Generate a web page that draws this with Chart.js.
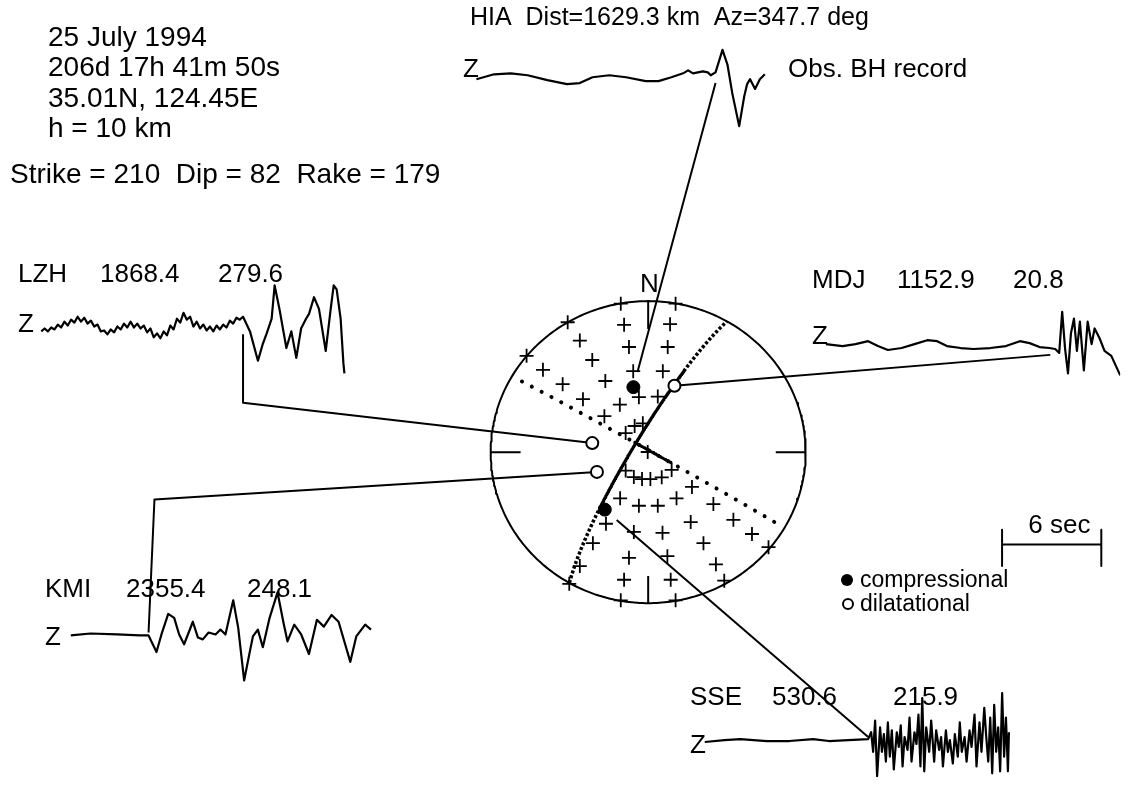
<!DOCTYPE html>
<html>
<head>
<meta charset="utf-8">
<script src="https://cdn.jsdelivr.net/npm/chart.js@4/dist/chart.umd.min.js"></script>
<style>
  html, body { margin: 0; padding: 0; background: #fff; }
  canvas { display: block; }
</style>
</head>
<body>
<canvas id="fig" width="1129" height="786"></canvas>
<script>
// ---------------- event ----------------
const eventLines = ['25 July 1994', '206d 17h 41m 50s', '35.01N, 124.45E', 'h = 10 km'];
const strikeDeg = 210;
const dipDeg = 82;
const rakeDeg = 179;

// ---------------- stations ----------------
const stations   = ['HIA', 'LZH', 'MDJ', 'KMI', 'SSE'];
const distKm     = [1629.3, 1868.4, 1152.9, 2355.4, 530.6];
const azimuthDeg = [347.7, 279.6, 20.8, 248.1, 215.9];
const takeoffDeg = [36.3, 29.5, 38.8, 28.7, 38.8];
const polarity   = ['c', 'd', 'd', 'd', 'c'];   // c = compressional, d = dilatational
const onsetSec   = [14.46, 12.2, 13.57, 4.70, 9.88];

// ---------------- vertical-component records (time s, amplitude counts) ----------------
const hiaT = [0,1.07,2.08,3.10,4.29,5.48,6.25,7.02,8.04,9.05,10.24,11.01,11.79,12.5,12.8,13.1,13.39,13.7,13.99,14.17,14.46,14.88,15.18,15.48,15.89,16.19,16.37,16.55,16.85,17.14,17.44];
const hiaA = [-2,3,4,2,-3,-7,-6,0,2,0,-4,-4,0,4,7,4,5,6,5,2,5,28,13,-17,-50,-20,-7,-2,-12,-2,3];

const lzhT = [0,0.2,0.4,0.6,0.8,1.0,1.2,1.4,1.6,1.8,2.0,2.2,2.4,2.6,2.8,3.0,3.2,3.4,3.6,3.8,
  4.0,4.2,4.4,4.6,4.8,5.0,5.2,5.4,5.6,5.8,6.0,6.2,6.4,6.6,6.8,7.0,7.2,7.4,7.6,7.8,
  8.0,8.2,8.4,8.6,8.8,9.0,9.2,9.4,9.6,9.8,10.0,10.2,10.4,10.6,10.8,11.0,11.2,11.4,11.6,11.8,12.0,12.2,
  12.62,13.10,13.39,13.63,13.93,14.11,14.40,14.82,15.12,15.42,15.71,16.01,16.19,16.49,16.79,17.20,17.50,17.68,17.86,18.10,18.27,18.33];
const lzhA = [-5,-2,-5,-1,-3,2,-1,5,1,7,4,10,5,9,3,6,0,2,-5,-4,
  -8,-3,-6,0,-3,3,-1,5,-1,3,-2,1,-6,-2,-11,-7,-12,-5,-9,1,
  -3,8,4,14,7,10,0,5,-2,2,-4,0,-5,1,-3,2,-1,6,3,9,7,10,
  -5,-35,-18,-7,8,42,18,-22,-5,-32,-2,8,13,30,18,-25,18,42,38,8,-38,-48];

const mdjT = [0,1.01,1.79,2.56,3.15,3.75,4.58,5.36,6.13,6.73,7.32,8.15,8.93,9.94,10.89,11.73,12.32,12.92,13.51,13.87,
  14.11,14.29,14.46,14.64,14.82,15.0,15.18,15.36,15.60,15.83,16.07,16.25,16.55,16.85,17.26,17.80];
const mdjA = [2,0,2,5,0,-4,-2,2,6,5,0,-2,-3,-2,0,5,3,-1,-2,-3,
  -7,35,-2,-28,13,28,-5,25,-25,25,2,18,8,-5,-10,-30];

const kmiT = [0,1.19,2.80,4.17,4.70,5.18,5.48,5.89,6.25,6.55,6.85,7.38,7.68,7.98,8.33,8.75,9.05,9.35,9.82,10.12,
  10.48,10.83,11.01,11.31,11.61,12.02,12.50,12.86,13.10,13.51,13.93,14.40,14.88,15.30,15.77,16.19,16.90,17.26,17.80,18.15];
const kmiA = [-1,1,0,-1,-1,-18,0,21,17,0,-10,13,-3,-5,2,0,5,0,35,7,
  -47,-17,-2,5,-13,17,43,12,-7,10,0,-20,15,8,20,13,-28,-2,10,5];

const sseT = [0,1.19,2.14,3.75,5.12,6.55,7.5,8.69,9.88,
  10.06,10.18,10.30,10.42,10.60,10.71,10.83,10.95,11.07,11.19,11.31,11.43,11.61,11.73,11.85,11.96,12.08,12.26,12.38,12.50,
  12.68,12.80,12.92,13.04,13.15,13.27,13.39,13.57,13.69,13.87,13.99,14.17,14.29,14.40,14.58,14.70,14.82,15.0,15.12,15.30,
  15.42,15.54,15.71,15.83,16.01,16.13,16.31,16.43,16.61,16.73,16.90,17.02,17.14,17.26,17.38,17.50,17.62,17.74,17.86,17.98,
  18.10,18.21,18.33,18.39];
const sseA = [-2,0,1,-1,-1,1,-1,0,1,
  8,-12,20,-37,13,-12,6,-22,18,-17,10,-30,8,-7,15,-27,3,-10,23,-22,
  8,-4,26,-27,43,-32,13,-12,20,-22,10,-10,3,-27,10,-12,0,-24,6,-17,
  18,-12,3,-22,10,-7,26,-27,18,-12,33,3,-22,23,-34,36,-12,13,-32,48,
  -17,23,-32,8];

const recordT = [hiaT, lzhT, mdjT, kmiT, sseT];
const recordA = [hiaA, lzhA, mdjA, kmiA, sseA];

// ---------------- first-motion grid on the net (east, north; unit radius) ----------------
const plusEast  = [-0.174,0.174,-0.511,-0.772,-0.174,0.174,-0.501,0.483,0.764,
  -0.153,0.139,-0.434,-0.122,0.124,-0.355,-0.668,-0.095,0.093,-0.543,-0.272,-0.059,0.061,-0.414,-0.180,-0.278,
  -0.086,-0.034,-0.143,-0.003,-0.143,-0.091,-0.039,0.014,0.086,0.149,0.278,-0.178,-0.059,0.061,0.180,0.414,
  -0.268,-0.091,0.091,0.270,0.541,0.659,-0.351,0.351,-0.122,0.122,0.430,-0.434,-0.153,0.143];
const plusNorth = [0.983,0.983,0.860,0.638,-0.981,-0.981,-0.872,-0.851,-0.629,
  0.843,0.847,0.739,0.696,0.696,0.610,0.545,0.536,0.536,0.450,0.471,0.364,0.368,0.351,0.314,0.238,
  0.173,0.191,0.126,0.001,-0.122,-0.165,-0.178,-0.178,-0.167,-0.118,-0.230,-0.306,-0.355,-0.355,-0.306,-0.344,
  -0.474,-0.528,-0.534,-0.463,-0.448,-0.542,-0.603,-0.603,-0.700,-0.689,-0.743,-0.754,-0.845,-0.845];

const scaleBarSec = 6;

// ---------------- layout ----------------
const W = 1129, H = 786;
const net = { cx: 649.5, cy: 453.5, rx: 160, ry: 154.5 };
const pxPerSec = 16.8;
const traceOrigin = [[475, 70], [33, 325], [830, 345], [63, 640], [707, 748]];
const leaderLayout = [
  { gap: 16, endDy: 6 },
  { gap: 0, endDy: 8, elbow: { dx: 0, y: 403 } },
  { gap: 0, endDy: 9 },
  { gap: 0, endDy: -2, elbow: { dx: 6, y: 502 } },
  { gap: 16, endDy: -3 }
];
const FONT = '"Liberation Sans", Arial, Helvetica, sans-serif';
const D = Math.PI / 180;

function netXY(e, n) { return { x: net.cx + e * net.rx, y: net.cy - n * net.ry }; }

function stationNetXY(i) {
  const r = Math.SQRT2 * Math.sin(takeoffDeg[i] * D / 2);   // equal-area
  return netXY(r * Math.sin(azimuthDeg[i] * D), r * Math.cos(azimuthDeg[i] * D));
}

// great circle of a plane, lower hemisphere, equal area; th = angle from strike in the plane
function planeCurve(strike, dip, th0, th1) {
  const s = strike * D, d = dip * D, pts = [];
  for (let th = th0; th <= th1 + 1e-9; th += 0.5) {
    const t = th * D;
    const n = Math.cos(t) * Math.cos(s) + Math.sin(t) * Math.cos(d) * Math.cos(s + Math.PI / 2);
    const e = Math.cos(t) * Math.sin(s) + Math.sin(t) * Math.cos(d) * Math.sin(s + Math.PI / 2);
    const z = Math.sin(t) * Math.sin(d);
    const plunge = Math.asin(Math.min(1, z));
    const trend = Math.atan2(e, n);
    const r = Math.SQRT2 * Math.sin((Math.PI / 2 - plunge) / 2);
    pts.push(netXY(r * Math.sin(trend), r * Math.cos(trend)));
  }
  return pts;
}

// auxiliary plane from strike / dip / rake (Aki & Richards convention)
function auxPlane(strike, dip, rake) {
  const f = strike * D, d = dip * D, l = rake * D;
  let ux = Math.cos(l) * Math.cos(f) + Math.cos(d) * Math.sin(l) * Math.sin(f);
  let uy = Math.cos(l) * Math.sin(f) - Math.cos(d) * Math.sin(l) * Math.cos(f);
  let uz = -Math.sin(l) * Math.sin(d);
  if (uz > 0) { ux = -ux; uy = -uy; uz = -uz; }
  let s2 = Math.atan2(-ux, uy) / D; if (s2 < 0) s2 += 360;
  return { strike: s2, dip: Math.acos(-uz) / D };
}

const datasets = [];
function addLine(points, opts) {
  datasets.push(Object.assign({
    data: points, showLine: true, pointRadius: 0, borderColor: '#000', borderWidth: 2,
    fill: false, tension: 0, borderJoinStyle: 'round', order: 5
  }, opts || {}));
}

// net outline and cardinal ticks
const ring = [];
for (let a = 0; a <= 360; a += 1) ring.push(netXY(Math.sin(a * D), Math.cos(a * D)));
addLine(ring, { borderWidth: 2 });
addLine([netXY(0, 1), netXY(0, 0.82)]);
addLine([netXY(0, -1), netXY(0, -0.82)]);
addLine([netXY(-1, 0), netXY(-0.81, 0)]);
addLine([netXY(1, 0), netXY(0.81, 0)]);

// nodal planes
addLine(planeCurve(strikeDeg, dipDeg, 0, 52), { borderWidth: 3.5, borderDash: [3, 2], order: 4 });
addLine(planeCurve(strikeDeg, dipDeg, 52, 138), { borderWidth: 3, order: 4 });
addLine(planeCurve(strikeDeg, dipDeg, 138, 180), { borderWidth: 3.5, borderDash: [3, 2], order: 4 });
const aux = auxPlane(strikeDeg, dipDeg, rakeDeg);
addLine(planeCurve(aux.strike, aux.dip, 8, 172), { borderWidth: 4, borderDash: [0.1, 11], borderCapStyle: 'round', order: 4 });
addLine(planeCurve(aux.strike, aux.dip, 81, 103), { borderWidth: 3, order: 4 });

// records and leaders
stations.forEach((name, i) => {
  const [ox, oy] = traceOrigin[i];
  addLine(recordT[i].map((t, k) => ({ x: ox + t * pxPerSec, y: oy - recordA[i][k] })), { borderWidth: 2.2 });

  const p = stationNetXY(i);
  const L = leaderLayout[i];
  const end = { x: ox + onsetSec[i] * pxPerSec, y: oy + L.endDy };
  const pts = [];
  const next = L.elbow ? { x: end.x + L.elbow.dx, y: L.elbow.y } : end;
  const len = Math.hypot(next.x - p.x, next.y - p.y);
  pts.push({ x: p.x + (next.x - p.x) * L.gap / len, y: p.y + (next.y - p.y) * L.gap / len });
  if (L.elbow) pts.push(next);
  pts.push(end);
  addLine(pts, { borderWidth: 2, order: 3 });
});

// first-motion grid
datasets.push({
  data: plusEast.map((e, k) => netXY(e, plusNorth[k])),
  showLine: false, pointStyle: 'cross', pointRadius: 7, borderColor: '#000', borderWidth: 1.8, order: 1
});

// polarities
const comp = [], dil = [];
stations.forEach((s, i) => (polarity[i] === 'c' ? comp : dil).push(stationNetXY(i)));
datasets.push({ data: comp, showLine: false, pointStyle: 'circle', pointRadius: 6.5,
  backgroundColor: '#000', borderColor: '#000', borderWidth: 1, order: 0 });
datasets.push({ data: dil, showLine: false, pointStyle: 'circle', pointRadius: 6,
  backgroundColor: '#fff', borderColor: '#000', borderWidth: 2, order: 0 });

// time scale bar
const bar = { x: 1009, y: 548, h: 18 };
const barEnd = bar.x + scaleBarSec * pxPerSec;
addLine([{ x: bar.x, y: bar.y - bar.h + 3 }, { x: bar.x, y: bar.y + bar.h + 4 }]);
addLine([{ x: bar.x, y: bar.y }, { x: barEnd, y: bar.y }]);
addLine([{ x: barEnd, y: bar.y - bar.h + 3 }, { x: barEnd, y: bar.y + bar.h + 4 }]);

// text
const labelPos = [
  null,
  { y: 282, xs: [18, 100, 218] },
  { y: 288, xs: [812, 897, 1013] },
  { y: 597, xs: [45, 126, 247] },
  { y: 705, xs: [690, 772, 893] }
];
const zPos = [[463, 77], [18, 332], [812, 344], [45, 645], [690, 753]];

const textPlugin = {
  id: 'figureText',
  afterDatasetsDraw(chart) {
    const ctx = chart.ctx;
    ctx.save();
    ctx.fillStyle = '#000';
    ctx.textBaseline = 'alphabetic';
    ctx.textAlign = 'left';

    ctx.font = '28px ' + FONT;
    const base = [46, 76, 107, 137];
    eventLines.forEach((t, k) => ctx.fillText(t, 48, base[k]));
    ctx.fillText('Strike = ' + strikeDeg + '  Dip = ' + dipDeg + '  Rake = ' + rakeDeg, 10, 183);

    ctx.font = '25px ' + FONT;
    ctx.fillText(stations[0] + '  Dist=' + distKm[0].toFixed(1) + ' km  Az=' + azimuthDeg[0].toFixed(1) + ' deg', 470, 25);
    ctx.font = '26px ' + FONT;
    ctx.fillText('Obs. BH record', 788, 77);
    for (let i = 1; i < stations.length; i++) {
      const lp = labelPos[i];
      ctx.fillText(stations[i], lp.xs[0], lp.y);
      ctx.fillText(distKm[i].toFixed(1), lp.xs[1], lp.y);
      ctx.fillText(azimuthDeg[i].toFixed(1), lp.xs[2], lp.y);
    }
    zPos.forEach(([x, y]) => ctx.fillText('Z', x, y));

    ctx.textAlign = 'center';
    ctx.fillText('N', net.cx, net.cy - net.ry - 7);
    ctx.fillText(scaleBarSec + ' sec', (bar.x + barEnd) / 2, bar.y - 15);

    // polarity key
    ctx.textAlign = 'left';
    ctx.font = '23px ' + FONT;
    ctx.beginPath(); ctx.arc(847, 580, 6, 0, 2 * Math.PI); ctx.fill();
    ctx.fillText('compressional', 860, 587);
    ctx.beginPath(); ctx.arc(848, 604, 5, 0, 2 * Math.PI);
    ctx.lineWidth = 2; ctx.strokeStyle = '#000'; ctx.stroke();
    ctx.fillText('dilatational', 860, 611);
    ctx.restore();
  }
};

new Chart(document.getElementById('fig'), {
  type: 'scatter',
  data: { datasets },
  options: {
    responsive: false,
    animation: false,
    devicePixelRatio: 1,
    events: [],
    layout: { padding: 0 },
    plugins: { legend: { display: false }, tooltip: { enabled: false } },
    scales: {
      x: { type: 'linear', min: 0, max: W, display: false },
      y: { type: 'linear', min: 0, max: H, reverse: true, display: false }
    }
  },
  plugins: [textPlugin]
});
</script>
</body>
</html>
